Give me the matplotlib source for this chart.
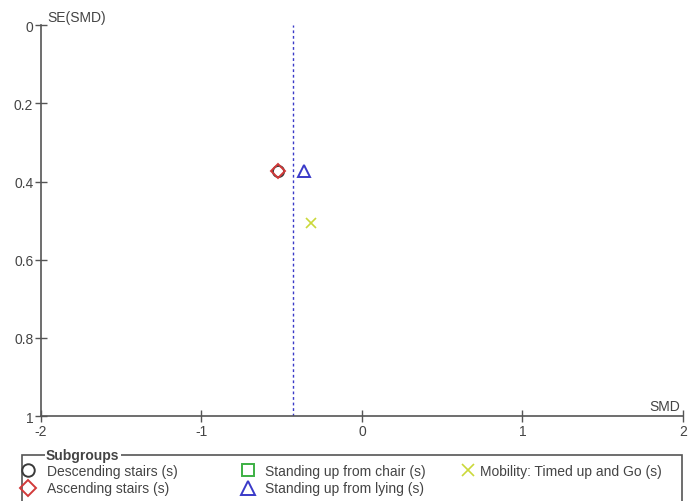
import matplotlib
matplotlib.use("Agg")
import matplotlib.pyplot as plt
from matplotlib.lines import Line2D
from matplotlib.patches import Rectangle

plt.rcParams['font.family'] = ['Liberation Sans', 'DejaVu Sans']

subgroups = ["Descending stairs (s)", "Ascending stairs (s)", "Standing up from chair (s)",
             "Standing up from lying (s)", "Mobility: Timed up and Go (s)"]
smd = [-0.52, -0.52, None, -0.36, -0.32]
se = [0.374, 0.374, None, 0.372, 0.505]
pooled_smd = -0.43
x_ticks = [-2, -1, 0, 1, 2]
y_ticks = [0, 0.2, 0.4, 0.6, 0.8, 1]
y_tick_labels = ["0", "0.2", "0.4", "0.6", "0.8", "1"]

markers = ["o", "D", "s", "^", "x"]
colors = ["#3a3a3a", "#d23a3a", "#3cb043", "#3a3ac8", "#cbd83a"]
sizes = [8, 7.5, 8.5, 8.5, 7]
legend_sizes = [9, 8.5, 9, 10, 8]
TXT = "#444444"

fig = plt.figure(figsize=(6.89, 5.02), dpi=100)
ax = fig.add_axes([0.0595, 0.169, 0.9315, 0.779])


def style(m, c, s):
    if m == "x":
        return dict(marker=m, color=c, markersize=s, mew=1.2, linestyle="none")
    return dict(marker=m, markerfacecolor="none", markeredgecolor=c, markersize=s,
                mew=1.4, linestyle="none")


for x, y, m, c, s in zip(smd, se, markers, colors, sizes):
    if x is None:
        continue
    ax.plot(x, y, zorder=3, **style(m, c, s))

ax.axvline(pooled_smd, color="#3a3ac8", linestyle=(0, (2, 2)), linewidth=1, zorder=2)

ax.set_xlim(-2, 2)
ax.set_ylim(1, 0)
ax.set_xticks(x_ticks)
ax.set_xticklabels([str(t) for t in x_ticks])
ax.set_yticks(y_ticks)
ax.set_yticklabels(y_tick_labels)
for sp in ["top", "right"]:
    ax.spines[sp].set_visible(False)
for sp in ["left", "bottom"]:
    ax.spines[sp].set_color("#555555")
    ax.spines[sp].set_linewidth(1.2)
ax.tick_params(direction="inout", length=9, width=1, colors="#555555",
               labelcolor=TXT, labelsize=10, pad=1)

ax.text(0.01, 1.003, "SE(SMD)", transform=ax.transAxes, fontsize=10, color=TXT,
        ha="left", va="bottom")
ax.text(0.995, 0.008, "SMD", transform=ax.transAxes, fontsize=10, color=TXT,
        ha="right", va="bottom")

# Legend box
fig.add_artist(Rectangle((22 / 689, -5 / 502), 660 / 689, 51 / 502, transform=fig.transFigure,
                         fill=False, edgecolor="#555555", linewidth=1.2))
fig.text(46 / 689, 1 - 456 / 502, "Subgroups", fontsize=10, fontweight="bold", color=TXT,
         ha="left", va="center", bbox=dict(facecolor="white", edgecolor="none", pad=1))

handles = [Line2D([], [], **style(m, c, s)) for m, c, s in zip(markers, colors, legend_sizes)]
groups = [([0, 1], 21, 0.9), ([2, 3], 241, 0.75), ([4], 461, 0.4)]
for idx, xpix, pad in groups:
    leg = fig.legend([handles[i] for i in idx], [subgroups[i] for i in idx], frameon=False,
                     fontsize=10, loc="upper left", bbox_to_anchor=(xpix / 689, 1 - 465 / 502),
                     handletextpad=pad, labelspacing=0.25, handlelength=1.0,
                     borderaxespad=0, borderpad=0)
    for t in leg.get_texts():
        t.set_color(TXT)

fig.savefig("out.png", dpi=100)
